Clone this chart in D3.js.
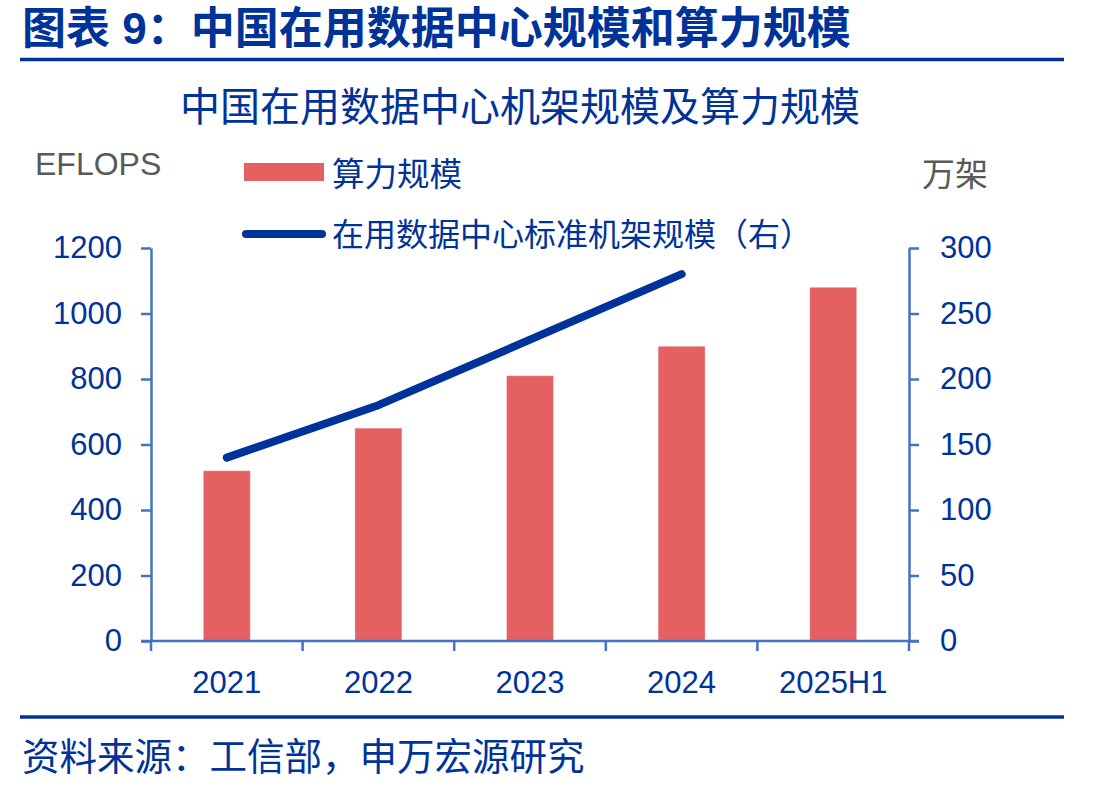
<!DOCTYPE html>
<html>
<head>
<meta charset="utf-8">
<script src="https://cdn.jsdelivr.net/npm/d3@7"></script>
<style>
  html, body { margin: 0; padding: 0; background: #ffffff; }
  svg { display: block; }
  text { font-family: "Liberation Sans", Arial, "Noto Sans CJK SC", sans-serif; }
</style>
</head>
<body>
<svg id="chart" width="1100" height="787"></svg>
<script>
// ---- data ----
const categories = ["2021", "2022", "2023", "2024", "2025H1"];
const computePower = [520, 650, 810, 900, 1080];      // 算力规模 (EFLOPS), left axis
const rackScale = [140, 180, 230, 280, null];          // 在用数据中心标准机架规模 (万架), right axis
const leftTicks = [0, 200, 400, 600, 800, 1000, 1200];
const rightTicks = [0, 50, 100, 150, 200, 250, 300];

const titleText = "图表 9：中国在用数据中心规模和算力规模";
const subtitleText = "中国在用数据中心机架规模及算力规模";
const legendBar = "算力规模";
const legendLine = "在用数据中心标准机架规模（右）";
const leftUnit = "EFLOPS";
const rightUnit = "万架";
const sourceText = "资料来源：工信部，申万宏源研究";

// ---- styles ----
const BLUE = "#003399";
const AXIS = "#4472C4";
const BAR = "#E56060";
const GRAY = "#595959";

const svg = d3.select("#chart");
const plot = { left: 151, right: 909, top: 248, bottom: 641 };

const x = d3.scaleBand().domain(categories).range([plot.left, plot.right]).paddingInner(0).paddingOuter(0);
const yL = d3.scaleLinear().domain([0, 1200]).range([plot.bottom, plot.top]);
const yR = d3.scaleLinear().domain([0, 300]).range([plot.bottom, plot.top]);

// title
svg.append("text").attr("x", 22).attr("y", 44)
  .attr("font-size", 44).attr("font-weight", "bold").attr("fill", BLUE)
  .text(titleText);
svg.append("line").attr("x1", 20).attr("x2", 1064).attr("y1", 59.5).attr("y2", 59.5)
  .attr("stroke", BLUE).attr("stroke-width", 3.5);

// subtitle
svg.append("text").attr("x", 520).attr("y", 121).attr("text-anchor", "middle")
  .attr("font-size", 40).attr("fill", BLUE).text(subtitleText);

// units
svg.append("text").attr("x", 35).attr("y", 175).attr("font-size", 32).attr("fill", GRAY).text(leftUnit);
svg.append("text").attr("x", 922).attr("y", 186).attr("font-size", 33).attr("fill", GRAY).text(rightUnit);

// legend
svg.append("rect").attr("x", 244).attr("y", 163).attr("width", 80).attr("height", 18).attr("fill", BAR);
svg.append("text").attr("x", 332).attr("y", 186).attr("font-size", 32.5).attr("fill", BLUE).text(legendBar);
svg.append("line").attr("x1", 246).attr("x2", 322).attr("y1", 234).attr("y2", 234)
  .attr("stroke", BLUE).attr("stroke-width", 8).attr("stroke-linecap", "round");
svg.append("text").attr("x", 332).attr("y", 246).attr("font-size", 32).attr("fill", BLUE).text(legendLine);

// bars
const barW = 47;
svg.append("g").selectAll("rect").data(categories).join("rect")
  .attr("x", (d) => x(d) + x.bandwidth() / 2 - barW / 2)
  .attr("y", (d, i) => yL(computePower[i]))
  .attr("width", barW)
  .attr("height", (d, i) => yL(0) - yL(computePower[i]))
  .attr("fill", BAR)
  .attr("stroke", "rgba(255,255,255,0.35)").attr("stroke-width", 1);

// left axis
const gL = svg.append("g").attr("transform", `translate(${plot.left},0)`)
  .call(d3.axisLeft(yL).tickValues(leftTicks).tickFormat(d3.format("d")).tickSize(10).tickSizeOuter(0).tickPadding(19));
// right axis
const gR = svg.append("g").attr("transform", `translate(${plot.right},0)`)
  .call(d3.axisRight(yR).tickValues(rightTicks).tickFormat(d3.format("d")).tickSize(10).tickSizeOuter(0).tickPadding(21));
// bottom axis (labels at band centers)
const gB = svg.append("g").attr("transform", `translate(0,${plot.bottom})`)
  .call(d3.axisBottom(x).tickSize(0).tickPadding(30));
// bottom boundary ticks
const bounds = categories.map((c) => x(c)).concat([x(categories[categories.length - 1]) + x.bandwidth()]);
svg.append("g").selectAll("line").data(bounds).join("line")
  .attr("x1", (d) => d).attr("x2", (d) => d)
  .attr("y1", plot.bottom).attr("y2", plot.bottom + 10)
  .attr("stroke", AXIS).attr("stroke-width", 2.5);
// horizontal base line spanning the outer ticks
svg.append("line").attr("x1", plot.left - 10).attr("x2", plot.right + 10)
  .attr("y1", plot.bottom).attr("y2", plot.bottom)
  .attr("stroke", AXIS).attr("stroke-width", 2.5);

[gL, gR, gB].forEach((g) => {
  g.selectAll(".domain").attr("stroke", AXIS).attr("stroke-width", 2.5);
  g.selectAll(".tick line").attr("stroke", AXIS).attr("stroke-width", 2.5);
  g.selectAll(".tick text").attr("fill", BLUE).attr("font-size", 31)
    .attr("font-family", "'Liberation Sans', Arial, sans-serif");
});
gB.select(".domain").remove();

// line
const lineData = categories.map((c, i) => ({ c, v: rackScale[i] })).filter((d) => d.v != null);
svg.append("path").datum(lineData)
  .attr("d", d3.line().x((d) => x(d.c) + x.bandwidth() / 2).y((d) => yR(d.v)))
  .attr("fill", "none").attr("stroke", BLUE).attr("stroke-width", 8)
  .attr("stroke-linecap", "round").attr("stroke-linejoin", "round");

// bottom separator and source
svg.append("line").attr("x1", 20).attr("x2", 1064).attr("y1", 717).attr("y2", 717)
  .attr("stroke", BLUE).attr("stroke-width", 3.5);
svg.append("text").attr("x", 22).attr("y", 770).attr("font-size", 37.5).attr("fill", BLUE).text(sourceText);
</script>
</body>
</html>
